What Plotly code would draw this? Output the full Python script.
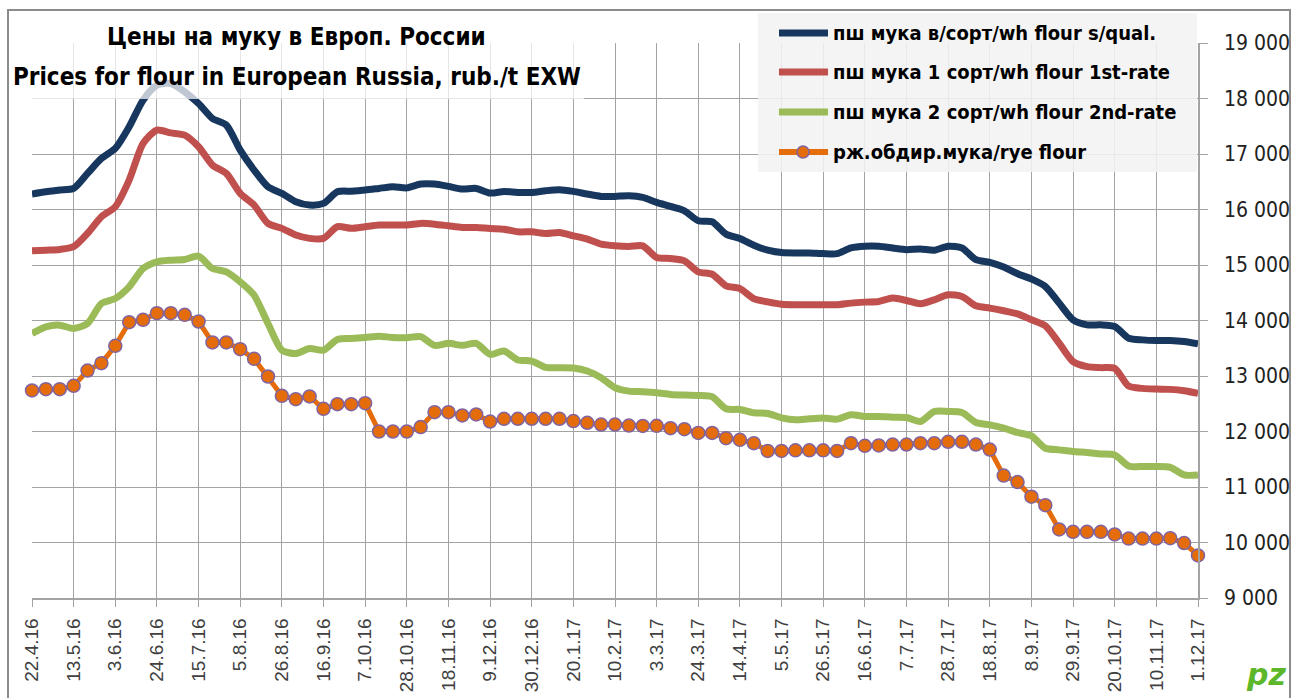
import pandas as pd
import plotly.graph_objects as go

# ---------------- data ----------------
start_date = "2016-04-22"
n_weeks = 85
dates = pd.date_range(start_date, periods=n_weeks, freq="7D")

series_names = [
    "пш мука в/сорт/wh flour s/qual.",
    "пш мука 1 сорт/wh flour 1st-rate",
    "пш мука 2 сорт/wh flour 2nd-rate",
    "рж.обдир.мука/rye flour",
]

wheat_top = [
    16280, 16320, 16350, 16380, 16650, 16920, 17100, 17490, 17970, 18240,
    18270, 18120, 17910, 17640, 17520, 17070, 16710, 16410, 16290, 16140,
    16080, 16110, 16320, 16330, 16350, 16380, 16410, 16390, 16458, 16458,
    16416, 16368, 16380, 16296, 16326, 16308, 16308, 16338, 16356, 16326,
    16278, 16236, 16236, 16248, 16218, 16128, 16055, 15977, 15797, 15779,
    15556, 15478, 15357, 15267, 15225, 15217, 15217, 15205, 15205, 15307,
    15337, 15337, 15307, 15277, 15289, 15265, 15337, 15307, 15096, 15048,
    14964, 14843, 14747, 14614, 14313, 14012, 13922, 13922, 13892, 13681,
    13651, 13639, 13639, 13620, 13578,
]

wheat_first = [
    15255, 15267, 15280, 15330, 15570, 15870, 16050, 16530, 17190, 17430,
    17380, 17340, 17130, 16800, 16650, 16290, 16080, 15750, 15660, 15540,
    15480, 15480, 15690, 15660, 15690, 15720, 15720, 15720, 15750, 15736,
    15706, 15676, 15676, 15658, 15646, 15598, 15598, 15568, 15586, 15526,
    15466, 15375, 15345, 15333, 15345, 15135, 15117, 15075, 14876, 14834,
    14623, 14575, 14395, 14335, 14292, 14283, 14283, 14283, 14283, 14313,
    14331, 14343, 14404, 14361, 14301, 14373, 14464, 14434, 14265, 14223,
    14175, 14120, 14012, 13904, 13590, 13259, 13169, 13151, 13139, 12819,
    12777, 12765, 12759, 12735, 12687,
]

wheat_second = [
    13766, 13886, 13916, 13856, 13946, 14306, 14396, 14606, 14937, 15057,
    15087, 15100, 15160, 14937, 14877, 14697, 14456, 13946, 13466, 13405,
    13495, 13466, 13658, 13676, 13694, 13718, 13694, 13691, 13709, 13552,
    13588, 13552, 13588, 13390, 13450, 13288, 13270, 13155, 13149, 13143,
    13089, 12969, 12788, 12728, 12716, 12698, 12668, 12656, 12650, 12626,
    12409, 12397, 12337, 12325, 12247, 12211, 12229, 12241, 12223, 12301,
    12271, 12271, 12259, 12253, 12181, 12361, 12361, 12343, 12163, 12120,
    12060, 11982, 11922, 11699, 11669, 11639, 11621, 11596, 11578, 11380,
    11368, 11368, 11355, 11217, 11217,
]

rye = [
    12739, 12763, 12763, 12823, 13099, 13231, 13544, 13970, 14012, 14132,
    14132, 14102, 13982, 13604, 13604, 13483, 13309, 12991, 12643, 12583,
    12631, 12408, 12492, 12492, 12510, 12000, 12000, 12000, 12080, 12349,
    12349, 12289, 12307, 12180, 12229, 12229, 12229, 12229, 12229, 12187,
    12157, 12126, 12126, 12108, 12100, 12102, 12060, 12042, 11975, 11975,
    11880, 11850, 11790, 11650, 11650, 11660, 11660, 11660, 11650, 11790,
    11742, 11750, 11765, 11765, 11790, 11790, 11815, 11815, 11765, 11675,
    11205, 11090, 10825, 10673, 10235, 10192, 10192, 10192, 10145, 10070,
    10070, 10070, 10078, 9990, 9768,
]

y_min, y_max, y_step = 9000, 19000, 1000

title_ru = "Цены на муку в Европ. России"
title_en = "Prices for flour in European Russia, rub./t EXW"

# ---------------- styles ----------------
colors = ["#17375e", "#c0504d", "#9bbb59", "#e46c0a"]
marker_edge = "#8064a2"
grid_col = "#a3a3a3"
NARROW = "Liberation Sans Narrow, DejaVu Sans Condensed, Arial Narrow, sans-serif"

W, H = 1292, 698
L, R, T, B = 32, 1198, 43, 598  # plot area in pixels


def px(x):
    return (x - L) / (R - L)


def py(y):
    return (B - y) / (B - T)


fig = go.Figure()
for name, vals, col in zip(series_names[:3], [wheat_top, wheat_first, wheat_second], colors[:3]):
    fig.add_trace(go.Scatter(
        x=dates, y=vals, name=name, mode="lines",
        line=dict(color=col, width=7, shape="spline", smoothing=0.7),
        showlegend=False, hoverinfo="skip",
    ))
fig.add_trace(go.Scatter(
    x=dates, y=rye, name=series_names[3], mode="lines+markers",
    line=dict(color=colors[3], width=5),
    marker=dict(size=13, color=colors[3], line=dict(color=marker_edge, width=1.5)),
    showlegend=False, cliponaxis=False, hoverinfo="skip",
))

shapes = []
annotations = []

# outer chart border
shapes.append(dict(type="rect", xref="paper", yref="paper", layer="below",
                   x0=px(8), x1=px(1290), y0=py(10), y1=py(720),
                   line=dict(color="#8c8c8c", width=2), fillcolor="rgba(0,0,0,0)"))

# title box (semi-transparent)
shapes.append(dict(type="rect", xref="paper", yref="paper", layer="above",
                   x0=px(25), x1=px(584), y0=py(99), y1=py(41),
                   line=dict(width=0), fillcolor="rgba(255,255,255,0.72)"))
annotations.append(dict(xref="paper", yref="paper", x=px(296), y=py(37), text="<b>" + title_ru + "</b>",
                        showarrow=False, xanchor="center", yanchor="middle",
                        font=dict(family=NARROW, size=24, color="#000000")))
annotations.append(dict(xref="paper", yref="paper", x=px(297), y=py(77), text="<b>" + title_en + "</b>",
                        showarrow=False, xanchor="center", yanchor="middle",
                        font=dict(family=NARROW, size=24, color="#000000")))

# legend box
shapes.append(dict(type="rect", xref="paper", yref="paper", layer="above",
                   x0=px(758), x1=px(1197), y0=py(172), y1=py(13),
                   line=dict(width=0), fillcolor="rgba(242,242,242,0.88)"))
leg_y = [33, 72, 112, 152]
for i, (name, col) in enumerate(zip(series_names, colors)):
    yy = py(leg_y[i])
    shapes.append(dict(type="line", xref="paper", yref="paper", layer="above",
                       x0=px(779), x1=px(828), y0=yy, y1=yy,
                       line=dict(color=col, width=7 if i < 3 else 6)))
    if i == 3:
        shapes.append(dict(type="circle", xref="paper", yref="paper", layer="above",
                           x0=px(797), x1=px(809), y0=py(leg_y[i] + 6), y1=py(leg_y[i] - 6),
                           fillcolor=col, line=dict(color=marker_edge, width=1.5)))
    annotations.append(dict(xref="paper", yref="paper", x=px(831), y=yy, text="<b>" + name + "</b>",
                            showarrow=False, xanchor="left", yanchor="middle",
                            font=dict(family=NARROW, size=20, color="#000000")))

# logo
annotations.append(dict(xref="paper", yref="paper", x=px(1266), y=py(674), text="<b><i>pz</i></b>",
                        showarrow=False, xanchor="center", yanchor="middle",
                        font=dict(family="DejaVu Sans", size=30, color="#5cb82a")))

fig.update_layout(
    width=W, height=H,
    margin=dict(l=L, r=W - R, t=T, b=H - B, autoexpand=False),
    paper_bgcolor="white", plot_bgcolor="white",
    separators=". ",
    shapes=shapes, annotations=annotations,
    showlegend=False,
)
fig.update_xaxes(
    type="date", range=[dates[0], dates[-1]],
    tick0=dates[0], dtick=21 * 86400000, tickformat="%-d.%-m.%y",
    tickangle=-90, ticks="outside", ticklen=7, tickcolor=grid_col,
    showgrid=True, gridcolor=grid_col, gridwidth=1,
    showline=True, linecolor=grid_col, linewidth=1.5,
    tickfont=dict(family="Liberation Sans, Arial, sans-serif", size=19, color="#404040"),
    ticklabelstandoff=4, zeroline=False, automargin=False,
)
fig.update_yaxes(
    side="right", range=[y_min, y_max], dtick=y_step, tick0=y_min,
    tickformat=",d", ticks="outside", ticklen=8, tickcolor=grid_col,
    showgrid=True, gridcolor=grid_col, gridwidth=1,
    showline=True, linecolor=grid_col, linewidth=1.5,
    tickfont=dict(family=NARROW, size=21, color="#222222"),
    ticklabelstandoff=12, zeroline=False, automargin=False,
)

fig.write_html(
    "out.html",
    config={"displayModeBar": False},
    post_script="document.body.style.margin='0';document.body.style.overflow='hidden';",
)
